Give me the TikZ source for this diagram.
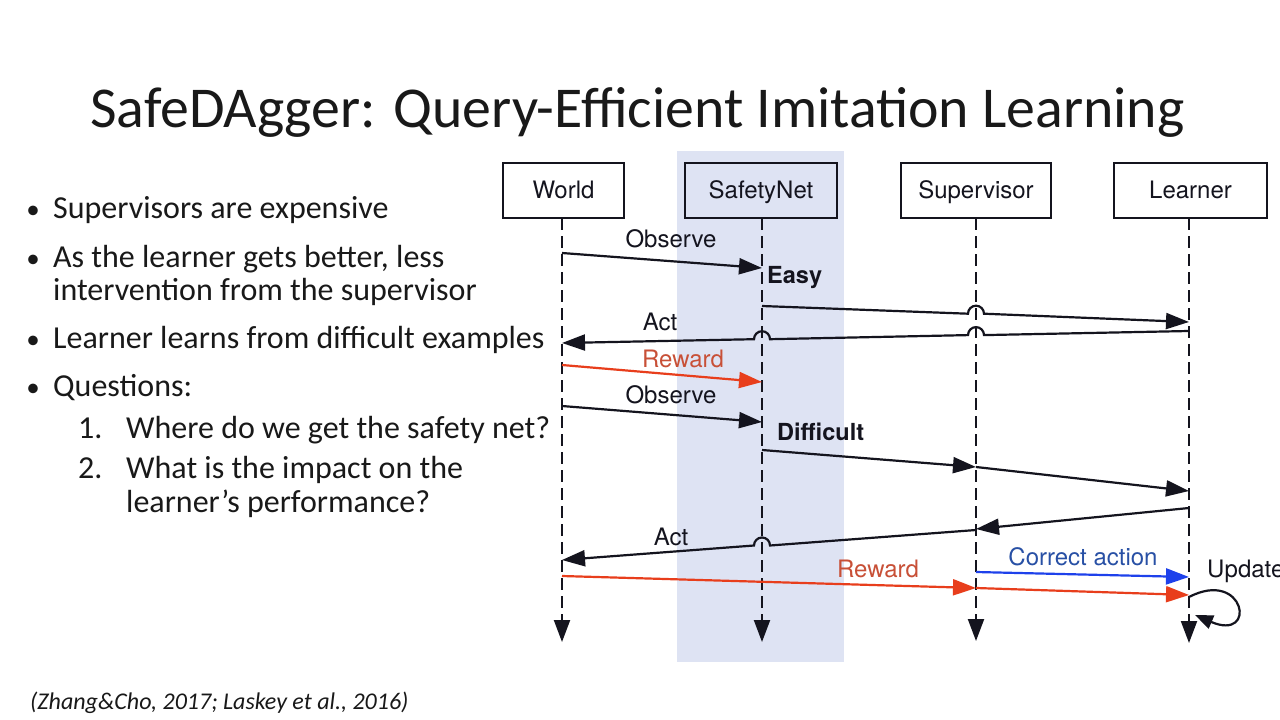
\documentclass[tikz,border=0pt]{standalone}
\usepackage{fontspec}
\setmainfont{Carlito}
\newfontfamily\diagfont{TeX Gyre Heros}
\usetikzlibrary{arrows.meta}
\definecolor{hl}{RGB}{222,227,243}
\definecolor{redl}{RGB}{232,62,28}
\definecolor{redt}{RGB}{200,80,55}
\definecolor{bluel}{RGB}{30,65,235}
\definecolor{bluet}{RGB}{40,80,165}
\definecolor{ink}{RGB}{20,20,30}
\definecolor{txt}{RGB}{25,25,25}
\begin{document}
\begin{tikzpicture}[x=1pt,y=-1pt,
  actor/.style={draw=ink, line width=2pt, minimum height=55pt, inner sep=0pt,
    text height=16.5pt, text depth=0pt, font=\diagfont\fontsize{24}{24}\selectfont, text=ink},
  lifeline/.style={draw=ink, line width=2.1pt, dash pattern=on 12pt off 6pt,
    -{Triangle[length=22pt,width=16pt]}},
  msg/.style={draw=ink, line width=2.2pt, -{Triangle[length=23pt,width=16pt]}},
  redmsg/.style={msg, draw=redl, -{Triangle[length=23pt,width=16pt,fill=redl]}},
  bluemsg/.style={msg, draw=bluel, -{Triangle[length=23pt,width=16pt,fill=bluel]}},
  lbl/.style={inner sep=0pt, anchor=base, font=\diagfont\fontsize{24}{24}\selectfont, text=ink},
  blbl/.style={lbl, anchor=base west, font=\diagfont\bfseries\fontsize{23.5}{24}\selectfont},
  body/.style={inner sep=0pt, anchor=base west, font=\fontsize{32}{32}\selectfont, text=txt},
  bul/.style={inner sep=0pt, anchor=base, font=\fontsize{27}{27}\selectfont, text=txt},
]
\useasboundingbox (0,0) rectangle (1280,720);
\fill[white] (0,0) rectangle (1280,720);

% title
\node[inner sep=0pt, anchor=base west, font=\fontsize{57.8}{58}\selectfont, text=txt] (title) at (90,127)
  {SafeDAgger: Query-Efficient Imitation Learning};

% bullets
\node[bul] (b1) at (33,218) {•};
\node[body] (t1) at (53,218) {Supervisors are expensive};
\node[bul] (b2) at (33,267) {•};
\node[body] (t2) at (53,267) {As the learner gets better, less};
\node[body] (t3) at (53,300) {intervention from the supervisor};
\node[bul] (b4) at (33,348) {•};
\node[body] (t4) at (53,348) {Learner learns from difficult examples};
\node[bul] (b5) at (33,396) {•};
\node[body] (t5) at (53,396) {Questions:};
\node[body] (n1) at (78,438) {1.};
\node[body] (q1) at (126,438) {Where do we get the safety net?};
\node[body] (n2) at (78,478) {2.};
\node[body] (q2) at (126,478) {What is the impact on the};
\node[body] (q3) at (126,512) {learner’s performance?};

\node[inner sep=0pt, anchor=base west, font=\itshape\fontsize{24}{24}\selectfont, text=txt] (cite) at (30,709)
  {(Zhang\&Cho, 2017; Laskey et al., 2016)};

% highlight band
\fill[hl] (677,151) rectangle (844,662);

% actors
\node[actor, minimum width=121pt] (W) at (563.5,190.5) {World};
\node[actor, minimum width=152pt, fill=hl] (S) at (761,190.5) {SafetyNet};
\node[actor, minimum width=150pt] (V) at (976,190.5) {Supervisor};
\node[actor, minimum width=153pt] (L) at (1190.5,190.5) {Learner};

% lifeline ends
\coordinate (Wt) at (562,218); \coordinate (We) at (562,642);
\coordinate (St) at (762,218); \coordinate (Se) at (762,642);
\coordinate (Vt) at (976,218); \coordinate (Ve) at (976,641);
\coordinate (Lt) at (1189,218); \coordinate (Le) at (1189,643);
\draw[lifeline] (Wt) -- (We);
\draw[lifeline] (St) -- (Se);
\draw[lifeline] (Vt) -- (Ve);
\draw[lifeline] (Lt) -- (Le);

% message endpoints
\coordinate (w1) at (562,253); \coordinate (s1) at (762,268);
\coordinate (s2) at (762,306); \coordinate (h1) at (968,313.7); \coordinate (l2) at (1189,322);
\coordinate (l3) at (1189,331); \coordinate (h2) at (984,335.1); \coordinate (h3) at (770,339.2); \coordinate (w3) at (562,343);
\coordinate (w2) at (562,365); \coordinate (s2r) at (762,382);
\coordinate (w4) at (562,406); \coordinate (s4) at (762,422);
\coordinate (s3) at (762,450); \coordinate (v3) at (976,467); \coordinate (l3b) at (1189,491);
\coordinate (l4) at (1189,508); \coordinate (v4) at (976,529);
\coordinate (v5) at (976,530); \coordinate (h4) at (770,545.5); \coordinate (w5) at (562,560);
\coordinate (w6) at (562,576); \coordinate (v6) at (976,588); \coordinate (l6) at (1189,595);
\coordinate (v7) at (976,572); \coordinate (l7) at (1189,577);
\coordinate (lu1) at (1189,597); \coordinate (lu2) at (1195,615);

% messages
\draw[msg] (w1) -- (s1);
\draw[msg] (s2) -- (h1) arc[start angle=180, end angle=0, radius=8pt] -- (l2);
\draw[msg] (l3) -- (h2) arc[start angle=0, end angle=180, radius=8pt] -- (h3) arc[start angle=0, end angle=180, radius=8pt] -- (w3);
\draw[redmsg] (w2) -- (s2r);
\draw[msg] (w4) -- (s4);
\draw[msg] (s3) -- (v3);
\draw[msg] (v3) -- (l3b);
\draw[msg] (l4) -- (v4);
\draw[msg] (v5) -- (h4) arc[start angle=0, end angle=180, radius=8pt] -- (w5);
\draw[redmsg] (w6) -- (v6);
\draw[redmsg] (v6) -- (l6);
\draw[bluemsg] (v7) -- (l7);
\draw[msg, -{Triangle[length=18pt,width=14pt]}] (lu1) .. controls (1245,568) and (1258,642) .. (lu2);

% labels
\node[lbl] (o1) at (671,247) {Observe};
\node[blbl] (easy) at (767,283) {Easy};
\node[lbl] (a1) at (660,330) {Act};
\node[lbl, text=redt] (r1) at (683,367) {Reward};
\node[lbl] (o2) at (671,403) {Observe};
\node[blbl] (diff) at (777,440) {Difficult};
\node[lbl] (a2) at (671,545) {Act};
\node[lbl, text=bluet] (ca) at (1083,565) {Correct action};
\node[lbl, text=redt] (r2) at (878,577) {Reward};
\node[lbl, anchor=base west] (up) at (1207,577) {Update};
\end{tikzpicture}
\end{document}
